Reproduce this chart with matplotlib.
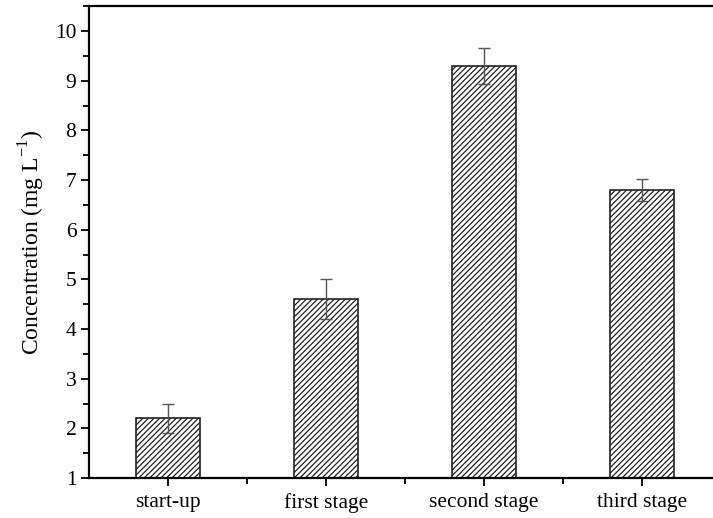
import numpy as np
import matplotlib
matplotlib.use('Agg')
import matplotlib.pyplot as plt
from matplotlib.ticker import MultipleLocator, FixedLocator

stages = ['start-up', 'first stage', 'second stage', 'third stage']
conc = [2.2, 4.6, 9.3, 6.8]
conc_err = [0.3, 0.4, 0.36, 0.22]

plt.rcParams['font.family'] = ['Liberation Serif', 'DejaVu Serif']
plt.rcParams['hatch.linewidth'] = 0.9
plt.rcParams['hatch.color'] = '#444444'

fig = plt.figure(figsize=(7.13, 5.18), dpi=100)
ax = fig.add_axes([0.1248, 0.0772, 0.8864, 0.9108])

x = np.arange(len(stages))
ax.bar(x, conc, width=0.41, color='white', edgecolor='#222222',
       linewidth=1.2, hatch='//////', zorder=2)
ax.errorbar(x, conc, yerr=conc_err, fmt='none', ecolor='#555555',
            elinewidth=1.0, capsize=4, capthick=1.0, zorder=3)

ax.set_xlim(-0.5, len(stages) - 0.5)
ax.set_ylim(1, 10.5)
ax.set_xticks(x)
ax.set_xticklabels(stages)
ax.xaxis.set_minor_locator(FixedLocator(x[:-1] + 0.5))
ax.yaxis.set_major_locator(MultipleLocator(1))
ax.yaxis.set_minor_locator(MultipleLocator(0.5))
ax.tick_params(axis='both', which='major', direction='out', length=6, width=1.3, labelsize=15.5)
ax.tick_params(axis='both', which='minor', direction='out', length=4, width=1.3)
ax.tick_params(axis='x', pad=5)
ax.tick_params(axis='y', pad=3)
ax.set_ylabel(r'Concentration (mg L$^{\mathregular{-1}}$)', fontsize=17, labelpad=6)

for s in ax.spines.values():
    s.set_linewidth(1.6)

fig.savefig('out.png', dpi=100)
